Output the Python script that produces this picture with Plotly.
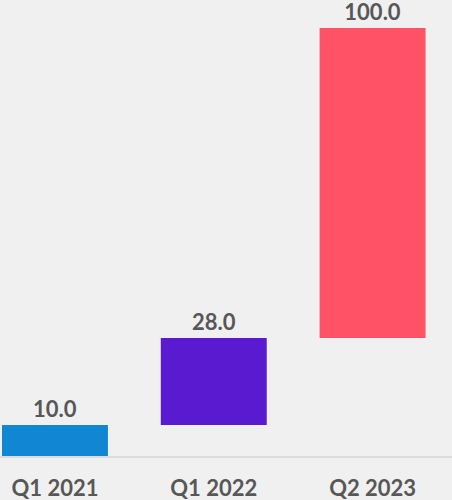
import plotly.graph_objects as go

categories = ["Q1 2021", "Q1 2022", "Q2 2023"]
values = [10.0, 28.0, 100.0]
colors = ["#1187D4", "#5A1ACF", "#FF5267"]

bases = []
run = 0.0
for v in values:
    bases.append(run)
    run += v

fig = go.Figure(go.Bar(
    x=categories,
    y=values,
    base=bases,
    marker=dict(color=colors, line=dict(width=0)),
    width=0.667,
    text=[f"{v:.1f}" for v in values],
    textposition="outside",
    cliponaxis=False,
    textfont=dict(family="Lato", size=22, color="#575757", weight=700),
))

fig.update_layout(
    width=452, height=500,
    margin=dict(l=0, r=0, t=0, b=44),
    paper_bgcolor="#F0F0F0",
    plot_bgcolor="#F0F0F0",
    showlegend=False,
    xaxis=dict(
        range=[-0.346, 2.5],
        showgrid=False, zeroline=False,
        showline=True, linecolor="#DCDCDC", linewidth=2,
        ticks="outside", ticklen=12, tickcolor="rgba(0,0,0,0)",
        tickfont=dict(family="Lato", size=22, color="#575757", weight=700),
    ),
    yaxis=dict(
        range=[0, 147], visible=False, showgrid=False, zeroline=False,
    ),
)

fig.write_html(
    "out.html",
    config={"displayModeBar": False},
    post_script="document.body.style.margin='0';document.body.style.background='#F0F0F0';",
)
